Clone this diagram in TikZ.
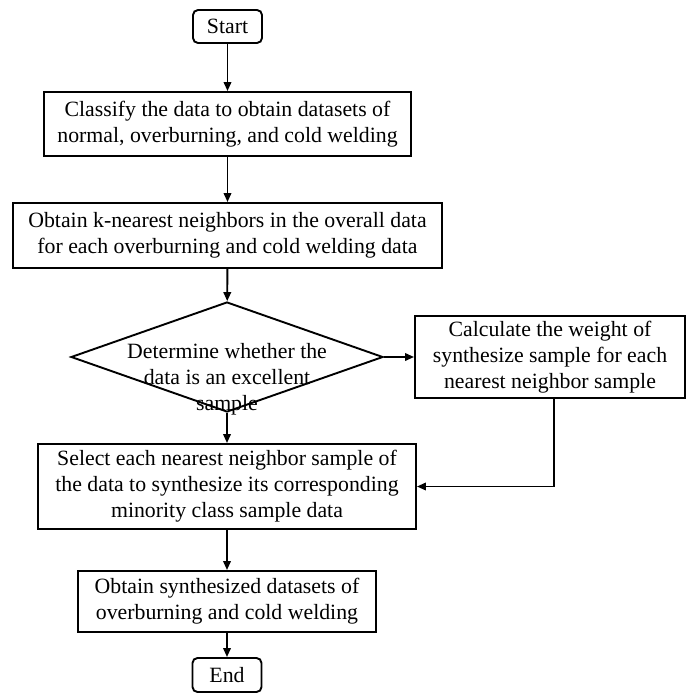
\documentclass[tikz,border=0pt]{standalone}
\usepackage{fontspec}
\setmainfont{Liberation Serif}
\usetikzlibrary{arrows.meta,shapes.geometric}
\begin{document}
\begin{tikzpicture}[x=1pt,y=-1pt,
  every node/.style={font=\fontsize{21.8pt}{26pt}\selectfont, align=center, inner sep=0pt},
  boxstyle/.style={draw, line width=1.9pt, rectangle},
  termstyle/.style={draw, line width=1.9pt, rectangle, rounded corners=5pt},
  arr/.style={line width=1.9pt, -{Triangle[length=9pt,width=7.5pt]}}]
\useasboundingbox (0,0) rectangle (686,693);
\node[termstyle, minimum width=69pt, minimum height=33pt] (start) at (227.5,26.5) {Start};
\node[boxstyle, minimum width=367pt, minimum height=64pt] (b1) at (227.5,124) {Classify the data to obtain datasets of\\normal, overburning, and cold welding};
\node[boxstyle, minimum width=429pt, minimum height=65pt] (b2) at (227.5,235.5) {Obtain k-nearest neighbors in the overall data\\for each overburning and cold welding data};
\node[draw, diamond, line width=1.9pt, minimum width=312pt, minimum height=110pt] (dec) at (227,357) {};
\node (dectext) at (227,379) {Determine whether the\\data is an excellent\\sample};
\node[boxstyle, minimum width=270pt, minimum height=82pt] (rb) at (550,357) {Calculate the weight of\\synthesize sample for each\\nearest neighbor sample};
\node[boxstyle, minimum width=378pt, minimum height=85pt] (b3) at (227,486.5) {Select each nearest neighbor sample of\\the data to synthesize its corresponding\\minority class sample data};
\node[boxstyle, minimum width=298pt, minimum height=61pt] (b4) at (227,601.5) {Obtain synthesized datasets of\\overburning and cold welding};
\node[termstyle, minimum width=69pt, minimum height=34pt] (end) at (227,675) {End};
\draw[arr] (start) -- (b1);
\draw[arr] (b1) -- (b2);
\draw[arr] (b2) -- (dec);
\draw[arr] (dec.east) -- (dec.east -| rb.west);
\draw[arr] (dec.south) -- (b3.north);
\draw[arr] ([xshift=4pt]rb.south) |- (b3.east);
\draw[arr] (b3) -- (b4);
\draw[arr] (b4) -- (end);
\end{tikzpicture}
\end{document}
